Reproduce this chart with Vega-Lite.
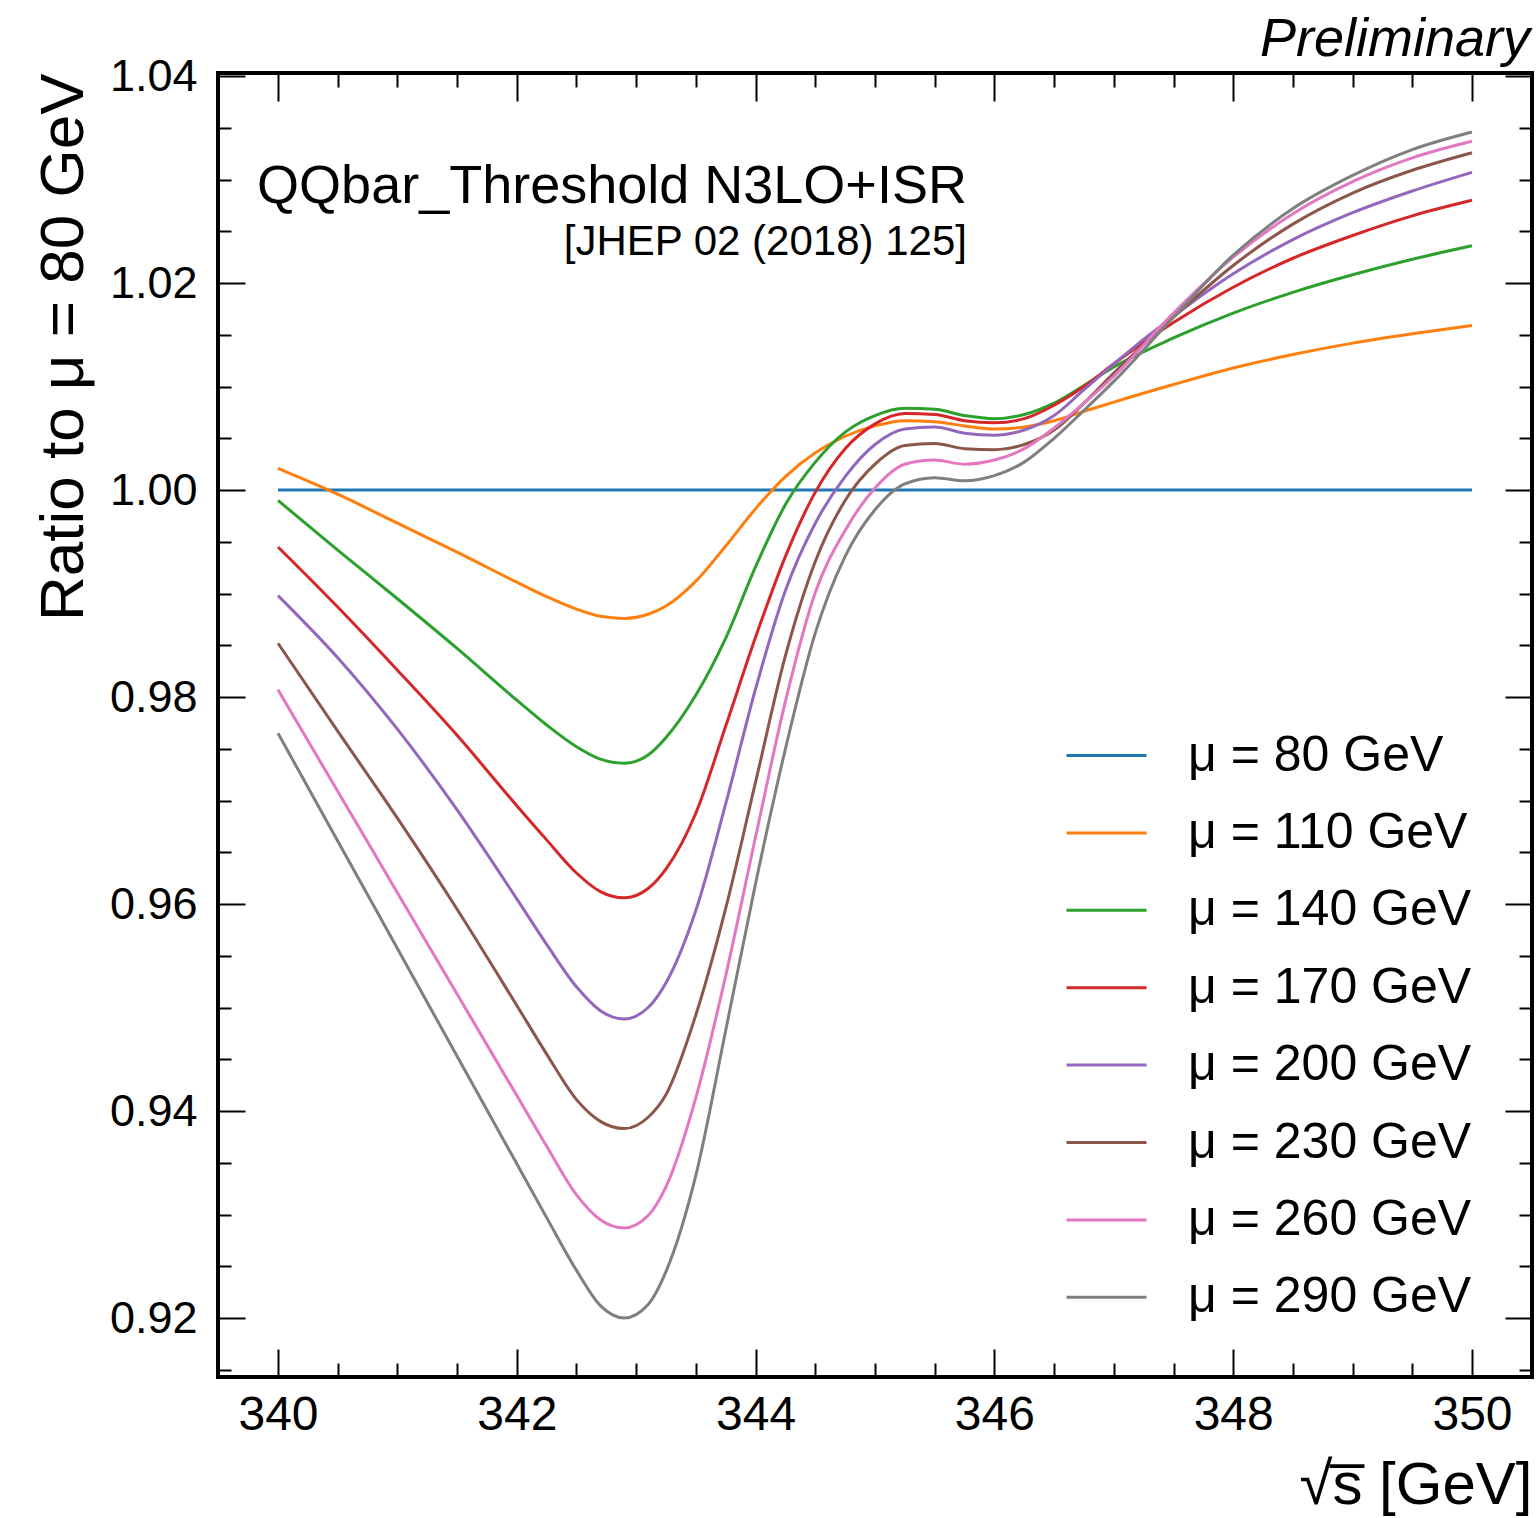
{
  "$schema": "https://vega.github.io/schema/vega-lite/v6.json",
  "width": 1314,
  "height": 1304,
  "autosize": {"type": "none"},
  "padding": {"left": 218, "top": 73, "right": 5, "bottom": 141},
  "background": "white",
  "config": {
    "view": {"stroke": "black", "strokeWidth": 4},
    "font": "Liberation Sans",
    "axis": {"grid": false, "domain": false, "tickColor": "black", "labelColor": "black", "titleColor": "black", "labelFont": "Liberation Sans", "titleFont": "Liberation Sans", "titleFontWeight": "normal", "labelOverlap": false, "labelFlush": false}
  },
  "datasets": {
    "curves": [
      {"mu":80,"x":340,"r":1.0},{"mu":80,"x":345,"r":1.0},{"mu":80,"x":350,"r":1.0},
      {"mu":110,"x":340,"r":1.0021},{"mu":110,"x":340.5,"r":0.9996},{"mu":110,"x":341,"r":0.9968},{"mu":110,"x":341.5,"r":0.9940},{"mu":110,"x":342,"r":0.9911},{"mu":110,"x":342.25,"r":0.9897},{"mu":110,"x":342.5,"r":0.9885},{"mu":110,"x":342.7,"r":0.9878},{"mu":110,"x":342.9,"r":0.9876},{"mu":110,"x":343.1,"r":0.9880},{"mu":110,"x":343.25,"r":0.9888},{"mu":110,"x":343.5,"r":0.9912},{"mu":110,"x":343.75,"r":0.9946},{"mu":110,"x":344,"r":0.9982},{"mu":110,"x":344.25,"r":1.0013},{"mu":110,"x":344.5,"r":1.0036},{"mu":110,"x":344.75,"r":1.0052},{"mu":110,"x":345,"r":1.0062},{"mu":110,"x":345.25,"r":1.0067},{"mu":110,"x":345.5,"r":1.0066},{"mu":110,"x":345.75,"r":1.0062},{"mu":110,"x":346,"r":1.0059},{"mu":110,"x":346.25,"r":1.0061},{"mu":110,"x":346.5,"r":1.0067},{"mu":110,"x":346.75,"r":1.0076},{"mu":110,"x":347,"r":1.0085},{"mu":110,"x":347.5,"r":1.0102},{"mu":110,"x":348,"r":1.0118},{"mu":110,"x":348.5,"r":1.0131},{"mu":110,"x":349,"r":1.0142},{"mu":110,"x":349.5,"r":1.0151},{"mu":110,"x":350,"r":1.0159},
      {"mu":140,"x":340,"r":0.9990},{"mu":140,"x":340.5,"r":0.9942},{"mu":140,"x":341,"r":0.9895},{"mu":140,"x":341.5,"r":0.9847},{"mu":140,"x":342,"r":0.9797},{"mu":140,"x":342.25,"r":0.9773},{"mu":140,"x":342.5,"r":0.9752},{"mu":140,"x":342.7,"r":0.9740},{"mu":140,"x":342.9,"r":0.9736},{"mu":140,"x":343.1,"r":0.9744},{"mu":140,"x":343.25,"r":0.9761},{"mu":140,"x":343.5,"r":0.9802},{"mu":140,"x":343.75,"r":0.9857},{"mu":140,"x":344,"r":0.9926},{"mu":140,"x":344.25,"r":0.9986},{"mu":140,"x":344.5,"r":1.0027},{"mu":140,"x":344.75,"r":1.0056},{"mu":140,"x":345,"r":1.0072},{"mu":140,"x":345.25,"r":1.0079},{"mu":140,"x":345.5,"r":1.0078},{"mu":140,"x":345.75,"r":1.0072},{"mu":140,"x":346,"r":1.0069},{"mu":140,"x":346.25,"r":1.0073},{"mu":140,"x":346.5,"r":1.0084},{"mu":140,"x":346.75,"r":1.0101},{"mu":140,"x":347,"r":1.0119},{"mu":140,"x":347.5,"r":1.0147},{"mu":140,"x":348,"r":1.0171},{"mu":140,"x":348.5,"r":1.0191},{"mu":140,"x":349,"r":1.0208},{"mu":140,"x":349.5,"r":1.0223},{"mu":140,"x":350,"r":1.0236},
      {"mu":170,"x":340,"r":0.9945},{"mu":170,"x":340.5,"r":0.9887},{"mu":170,"x":341,"r":0.9826},{"mu":170,"x":341.5,"r":0.9763},{"mu":170,"x":342,"r":0.9695},{"mu":170,"x":342.25,"r":0.9662},{"mu":170,"x":342.5,"r":0.9630},{"mu":170,"x":342.7,"r":0.9612},{"mu":170,"x":342.9,"r":0.9606},{"mu":170,"x":343.1,"r":0.9615},{"mu":170,"x":343.25,"r":0.9634},{"mu":170,"x":343.5,"r":0.9688},{"mu":170,"x":343.75,"r":0.9772},{"mu":170,"x":344,"r":0.9858},{"mu":170,"x":344.25,"r":0.9936},{"mu":170,"x":344.5,"r":0.9998},{"mu":170,"x":344.75,"r":1.0040},{"mu":170,"x":345,"r":1.0064},{"mu":170,"x":345.25,"r":1.0074},{"mu":170,"x":345.5,"r":1.0073},{"mu":170,"x":345.75,"r":1.0067},{"mu":170,"x":346,"r":1.0065},{"mu":170,"x":346.25,"r":1.0069},{"mu":170,"x":346.5,"r":1.0082},{"mu":170,"x":346.75,"r":1.0100},{"mu":170,"x":347,"r":1.0122},{"mu":170,"x":347.5,"r":1.0162},{"mu":170,"x":348,"r":1.0196},{"mu":170,"x":348.5,"r":1.0224},{"mu":170,"x":349,"r":1.0246},{"mu":170,"x":349.5,"r":1.0265},{"mu":170,"x":350,"r":1.0280},
      {"mu":200,"x":340,"r":0.9898},{"mu":200,"x":340.5,"r":0.9838},{"mu":200,"x":341,"r":0.9769},{"mu":200,"x":341.5,"r":0.9691},{"mu":200,"x":342,"r":0.9605},{"mu":200,"x":342.25,"r":0.9561},{"mu":200,"x":342.5,"r":0.9520},{"mu":200,"x":342.7,"r":0.9497},{"mu":200,"x":342.9,"r":0.9489},{"mu":200,"x":343.1,"r":0.9500},{"mu":200,"x":343.25,"r":0.9524},{"mu":200,"x":343.5,"r":0.9594},{"mu":200,"x":343.75,"r":0.9697},{"mu":200,"x":344,"r":0.9808},{"mu":200,"x":344.25,"r":0.9903},{"mu":200,"x":344.5,"r":0.9968},{"mu":200,"x":344.75,"r":1.0013},{"mu":200,"x":345,"r":1.0044},{"mu":200,"x":345.25,"r":1.0059},{"mu":200,"x":345.5,"r":1.0061},{"mu":200,"x":345.75,"r":1.0055},{"mu":200,"x":346,"r":1.0053},{"mu":200,"x":346.25,"r":1.0058},{"mu":200,"x":346.5,"r":1.0072},{"mu":200,"x":346.75,"r":1.0097},{"mu":200,"x":347,"r":1.0122},{"mu":200,"x":347.5,"r":1.0168},{"mu":200,"x":348,"r":1.0209},{"mu":200,"x":348.5,"r":1.0242},{"mu":200,"x":349,"r":1.0268},{"mu":200,"x":349.5,"r":1.0289},{"mu":200,"x":350,"r":1.0307},
      {"mu":230,"x":340,"r":0.9852},{"mu":230,"x":340.5,"r":0.9767},{"mu":230,"x":341,"r":0.9683},{"mu":230,"x":341.5,"r":0.9595},{"mu":230,"x":342,"r":0.9502},{"mu":230,"x":342.25,"r":0.9455},{"mu":230,"x":342.5,"r":0.9411},{"mu":230,"x":342.7,"r":0.9390},{"mu":230,"x":342.9,"r":0.9383},{"mu":230,"x":343.1,"r":0.9394},{"mu":230,"x":343.25,"r":0.9416},{"mu":230,"x":343.5,"r":0.9493},{"mu":230,"x":343.75,"r":0.9596},{"mu":230,"x":344,"r":0.9718},{"mu":230,"x":344.25,"r":0.9840},{"mu":230,"x":344.5,"r":0.9931},{"mu":230,"x":344.75,"r":0.9990},{"mu":230,"x":345,"r":1.0025},{"mu":230,"x":345.25,"r":1.0043},{"mu":230,"x":345.5,"r":1.0045},{"mu":230,"x":345.75,"r":1.0040},{"mu":230,"x":346,"r":1.0039},{"mu":230,"x":346.25,"r":1.0044},{"mu":230,"x":346.5,"r":1.0058},{"mu":230,"x":346.75,"r":1.0084},{"mu":230,"x":347,"r":1.0113},{"mu":230,"x":347.5,"r":1.0167},{"mu":230,"x":348,"r":1.0217},{"mu":230,"x":348.5,"r":1.0257},{"mu":230,"x":349,"r":1.0287},{"mu":230,"x":349.5,"r":1.0309},{"mu":230,"x":350,"r":1.0326},
      {"mu":260,"x":340,"r":0.9807},{"mu":260,"x":340.5,"r":0.9709},{"mu":260,"x":341,"r":0.9611},{"mu":260,"x":341.5,"r":0.9513},{"mu":260,"x":342,"r":0.9415},{"mu":260,"x":342.25,"r":0.9366},{"mu":260,"x":342.5,"r":0.9319},{"mu":260,"x":342.7,"r":0.9295},{"mu":260,"x":342.9,"r":0.9287},{"mu":260,"x":343.1,"r":0.9299},{"mu":260,"x":343.25,"r":0.9327},{"mu":260,"x":343.5,"r":0.9413},{"mu":260,"x":343.75,"r":0.9531},{"mu":260,"x":344,"r":0.9665},{"mu":260,"x":344.25,"r":0.9796},{"mu":260,"x":344.5,"r":0.9901},{"mu":260,"x":344.75,"r":0.9961},{"mu":260,"x":345,"r":1.0002},{"mu":260,"x":345.25,"r":1.0025},{"mu":260,"x":345.5,"r":1.0029},{"mu":260,"x":345.75,"r":1.0025},{"mu":260,"x":346,"r":1.0029},{"mu":260,"x":346.25,"r":1.0040},{"mu":260,"x":346.5,"r":1.0060},{"mu":260,"x":346.75,"r":1.0084},{"mu":260,"x":347,"r":1.0110},{"mu":260,"x":347.5,"r":1.0171},{"mu":260,"x":348,"r":1.0225},{"mu":260,"x":348.5,"r":1.0267},{"mu":260,"x":349,"r":1.0298},{"mu":260,"x":349.5,"r":1.0321},{"mu":260,"x":350,"r":1.0337},
      {"mu":290,"x":340,"r":0.9765},{"mu":290,"x":340.5,"r":0.9661},{"mu":290,"x":341,"r":0.9557},{"mu":290,"x":341.5,"r":0.9453},{"mu":290,"x":342,"r":0.9349},{"mu":290,"x":342.25,"r":0.9297},{"mu":290,"x":342.5,"r":0.9246},{"mu":290,"x":342.7,"r":0.9212},{"mu":290,"x":342.9,"r":0.9200},{"mu":290,"x":343.1,"r":0.9213},{"mu":290,"x":343.25,"r":0.9245},{"mu":290,"x":343.5,"r":0.9338},{"mu":290,"x":343.75,"r":0.9478},{"mu":290,"x":344,"r":0.9620},{"mu":290,"x":344.25,"r":0.9750},{"mu":290,"x":344.5,"r":0.9862},{"mu":290,"x":344.75,"r":0.9936},{"mu":290,"x":345,"r":0.9981},{"mu":290,"x":345.25,"r":1.0006},{"mu":290,"x":345.5,"r":1.0012},{"mu":290,"x":345.75,"r":1.0009},{"mu":290,"x":346,"r":1.0014},{"mu":290,"x":346.25,"r":1.0027},{"mu":290,"x":346.5,"r":1.0050},{"mu":290,"x":346.75,"r":1.0077},{"mu":290,"x":347,"r":1.0105},{"mu":290,"x":347.5,"r":1.0167},{"mu":290,"x":348,"r":1.0227},{"mu":290,"x":348.5,"r":1.0272},{"mu":290,"x":349,"r":1.0304},{"mu":290,"x":349.5,"r":1.0329},{"mu":290,"x":350,"r":1.0346}
    ]
  },
  "data": {"name": "curves"},
  "layer": [
    {
      "mark": {"type": "line", "strokeWidth": 3, "interpolate": "monotone"},
      "encoding": {
        "x": {"field": "x", "type": "quantitative", "scale": {"domain": [339.4975, 350.5025], "nice": false, "zero": false},
          "axis": {"orient": "bottom", "values": [340, 342, 344, 346, 348, 350], "format": "d", "tickSize": -28, "tickWidth": 2, "labelFontSize": 48, "labelPadding": 42, "title": "√s̅ [GeV]", "titleFontSize": 60, "titleAnchor": "end", "titlePadding": 17}},
        "y": {"field": "r", "type": "quantitative", "scale": {"domain": [0.9143, 1.0403], "nice": false, "zero": false},
          "axis": {"orient": "left", "values": [0.92, 0.94, 0.96, 0.98, 1.0, 1.02, 1.04], "format": ".2f", "tickSize": -27, "tickWidth": 2, "labelFontSize": 45, "labelPadding": 48, "title": "Ratio to μ = 80 GeV", "titleFontSize": 62, "titleAnchor": "end", "titlePadding": 14}},
        "color": {"field": "mu", "type": "nominal",
          "scale": {"domain": [80, 110, 140, 170, 200, 230, 260, 290], "range": ["#1f77b4", "#ff7f0e", "#2ca02c", "#d62728", "#9467bd", "#8c564b", "#e377c2", "#7f7f7f"]},
          "legend": {"orient": "none", "legendX": 847, "legendY": 641, "title": null, "padding": 0, "symbolType": "stroke", "symbolSize": 6400, "symbolStrokeWidth": 3, "labelFont": "Liberation Sans", "labelFontSize": 50, "labelColor": "black", "labelOffset": 40, "rowPadding": 10.4, "labelLimit": 0, "symbolLimit": 0, "labelExpr": "'μ = ' + datum.label + ' GeV'"}}
      }
    },
    {
      "mark": {"type": "line", "strokeOpacity": 0},
      "encoding": {
        "x": {"field": "x", "type": "quantitative", "scale": {"domain": [339.4975, 350.5025], "nice": false, "zero": false},
          "axis": {"orient": "bottom", "values": [340.5, 341, 341.5, 342.5, 343, 343.5, 344.5, 345, 345.5, 346.5, 347, 347.5, 348.5, 349, 349.5], "tickSize": -14, "tickWidth": 2, "labels": false, "title": null}},
        "y": {"field": "r", "type": "quantitative", "scale": {"domain": [0.9143, 1.0403], "nice": false, "zero": false},
          "axis": {"orient": "left", "values": [0.915, 0.925, 0.93, 0.935, 0.945, 0.95, 0.955, 0.965, 0.97, 0.975, 0.985, 0.99, 0.995, 1.005, 1.01, 1.015, 1.025, 1.03, 1.035], "tickSize": -13, "tickWidth": 2, "labels": false, "title": null}},
        "detail": {"field": "mu"}
      }
    },
    {
      "mark": {"type": "line", "strokeOpacity": 0},
      "encoding": {
        "x": {"field": "x", "type": "quantitative", "scale": {"domain": [339.4975, 350.5025], "nice": false, "zero": false},
          "axis": {"orient": "top", "values": [340, 342, 344, 346, 348, 350], "tickSize": -28, "tickWidth": 2, "labels": false, "title": null}},
        "y": {"field": "r", "type": "quantitative", "scale": {"domain": [0.9143, 1.0403], "nice": false, "zero": false},
          "axis": {"orient": "right", "values": [0.92, 0.94, 0.96, 0.98, 1.0, 1.02, 1.04], "tickSize": -27, "tickWidth": 2, "labels": false, "title": null}},
        "detail": {"field": "mu"}
      }
    },
    {
      "mark": {"type": "line", "strokeOpacity": 0},
      "encoding": {
        "x": {"field": "x", "type": "quantitative", "scale": {"domain": [339.4975, 350.5025], "nice": false, "zero": false},
          "axis": {"orient": "top", "values": [340.5, 341, 341.5, 342.5, 343, 343.5, 344.5, 345, 345.5, 346.5, 347, 347.5, 348.5, 349, 349.5], "tickSize": -14, "tickWidth": 2, "labels": false, "title": null}},
        "y": {"field": "r", "type": "quantitative", "scale": {"domain": [0.9143, 1.0403], "nice": false, "zero": false},
          "axis": {"orient": "right", "values": [0.915, 0.925, 0.93, 0.935, 0.945, 0.95, 0.955, 0.965, 0.97, 0.975, 0.985, 0.99, 0.995, 1.005, 1.01, 1.015, 1.025, 1.03, 1.035], "tickSize": -13, "tickWidth": 2, "labels": false, "title": null}},
        "detail": {"field": "mu"}
      }
    },
    {
      "data": {"values": [{}]},
      "mark": {"type": "text", "text": "QQbar_Threshold N3LO+ISR", "align": "right", "baseline": "alphabetic", "fontSize": 54, "font": "Liberation Sans", "color": "black"},
      "encoding": {
        "x": {"datum": 345.77, "type": "quantitative", "axis": null},
        "y": {"datum": 1.0277, "type": "quantitative", "axis": null}
      }
    },
    {
      "data": {"values": [{}]},
      "mark": {"type": "text", "text": "[JHEP 02 (2018) 125]", "align": "right", "baseline": "alphabetic", "fontSize": 42, "font": "Liberation Sans", "color": "black"},
      "encoding": {
        "x": {"datum": 345.77, "type": "quantitative", "axis": null},
        "y": {"datum": 1.0227, "type": "quantitative", "axis": null}
      }
    },
    {
      "data": {"values": [{}]},
      "mark": {"type": "text", "text": "Preliminary", "align": "right", "baseline": "alphabetic", "fontSize": 54, "fontStyle": "italic", "font": "Liberation Sans", "color": "black", "clip": false},
      "encoding": {
        "x": {"datum": 350.486, "type": "quantitative", "axis": null},
        "y": {"datum": 1.0419, "type": "quantitative", "axis": null}
      }
    }
  ],
  "resolve": {"axis": {"x": "independent", "y": "independent"}}
}
